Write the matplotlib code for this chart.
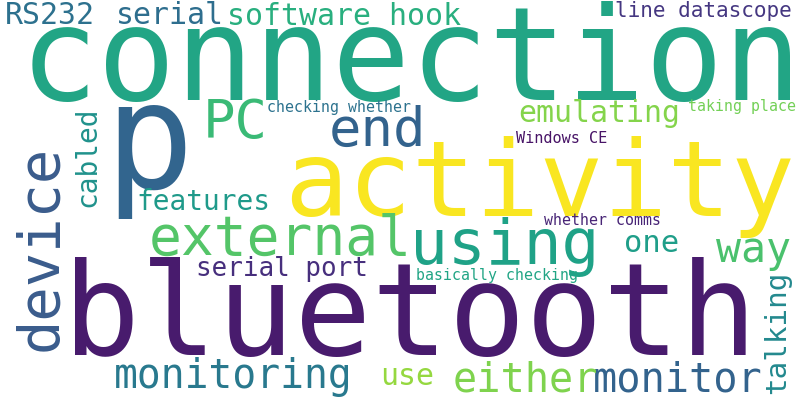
import matplotlib
matplotlib.use("Agg")
import matplotlib.pyplot as plt

# words and relative frequency (1.0 = biggest word)
words = ["connection", "bluetooth", "activity", "p", "using", "external",
         "device", "PC", "end", "monitoring", "monitor", "either", "way",
         "emulating", "features", "RS232", "serial", "software hook",
         "cabled", "one", "talking", "use", "serial port", "line datascope",
         "Windows CE", "whether comms", "checking whether", "taking place",
         "basically checking"]
freqs = [1.00, 0.985, 0.815, 1.14, 0.485, 0.42,
         0.44, 0.415, 0.415, 0.305, 0.31, 0.31, 0.32,
         0.23, 0.215, 0.23, 0.23, 0.23,
         0.215, 0.235, 0.225, 0.23, 0.2, 0.162,
         0.117, 0.115, 0.115, 0.115, 0.115]

# layout (pixels, origin top-left)
# x = centre of word, y = baseline, vertical words read bottom-to-top
xs = [411, 410, 540, 149, 505, 280,
      56, 235, 377, 233, 678, 525, 753,
      599, 203, 50, 170, 344,
      95, 652, 785, 407, 282, 703,
      562, 602, 339, 742, 497]
ys = [100, 355, 216, 188, 264, 255,
      248, 138, 146, 388, 392, 392, 262,
      122, 210, 24, 24, 25,
      157, 252, 332, 385, 276, 17,
      143, 225, 112, 111, 280]
vertical = ["device", "cabled", "talking"]
colors = ["#22a585", "#481b6d", "#f9e621", "#32658e", "#1fa287", "#54c568",
          "#3a5c8c", "#3aba76", "#33638d", "#29798e", "#33638d", "#7fd34e", "#4ac16d",
          "#84d44b", "#1f9a8a", "#2d718e", "#2e6e8e", "#29af7f",
          "#20928c", "#1f9e89", "#23898e", "#95d840", "#472f7d", "#453781",
          "#481467", "#482576", "#2c728e", "#73d056", "#21a585"]

max_px = 130  # font size of the largest word in pixels

fig = plt.figure(figsize=(8, 4), dpi=100)
ax = fig.add_axes([0, 0, 1, 1])
ax.set_xlim(0, 800)
ax.set_ylim(400, 0)
ax.axis("off")

for w, f, x, y, c in zip(words, freqs, xs, ys, colors):
    size_pt = f * max_px * 72 / 100
    rot = 90 if w in vertical else 0
    ax.text(x, y, w, fontsize=size_pt, color=c, family="DejaVu Sans Mono",
            ha="center", va="baseline", rotation=rot, rotation_mode="anchor")

fig.savefig("out.png", dpi=100, facecolor="white")
